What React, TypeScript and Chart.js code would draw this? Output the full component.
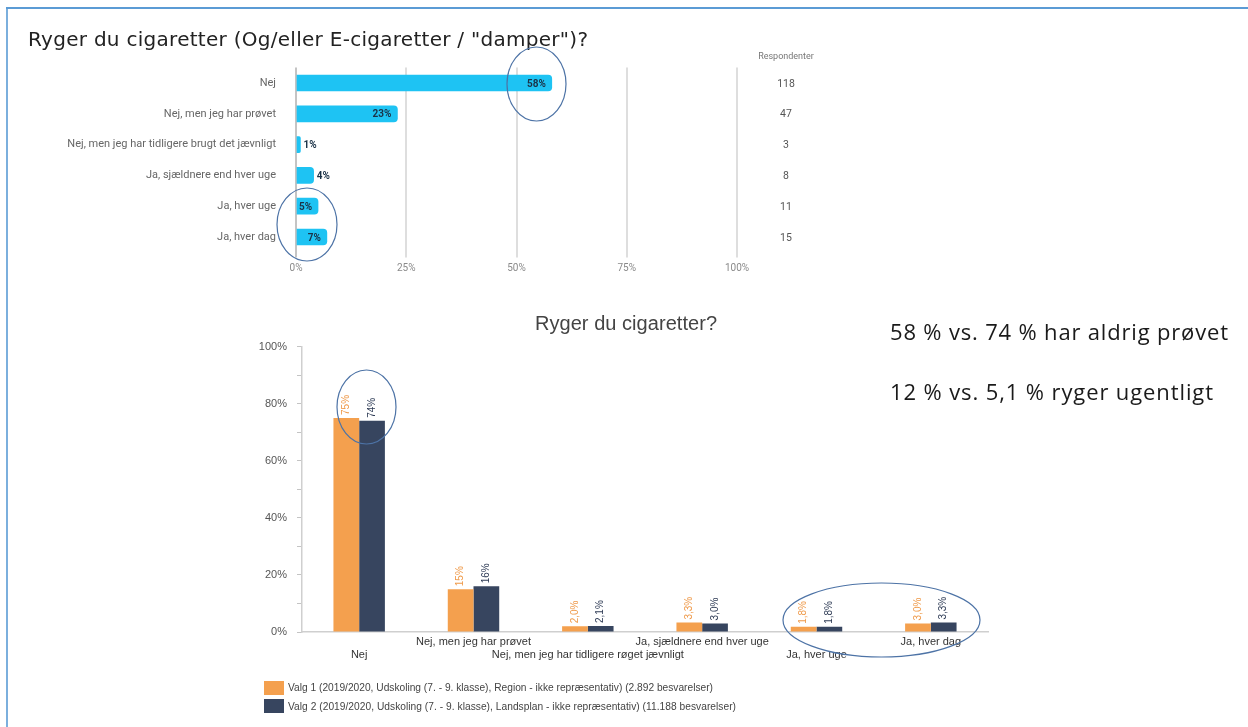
import React, { useEffect, useRef } from 'react';
import { Chart, registerables } from 'chart.js';

Chart.register(...registerables);

// ---------- Data ----------
const topTitle = 'Ryger du cigaretter (Og/eller E-cigaretter / "damper")?';
const topCategories = [
  'Nej',
  'Nej, men jeg har prøvet',
  'Nej, men jeg har tidligere brugt det jævnligt',
  'Ja, sjældnere end hver uge',
  'Ja, hver uge',
  'Ja, hver dag',
];
const topPercent = [58, 23, 1, 4, 5, 7];
const topRespondents = [118, 47, 3, 8, 11, 15];
const topRespondentsHeader = 'Respondenter';

const bottomTitle = 'Ryger du cigaretter?';
const bottomCategories = [
  'Nej',
  'Nej, men jeg har prøvet',
  'Nej, men jeg har tidligere røget jævnligt',
  'Ja, sjældnere end hver uge',
  'Ja, hver uge',
  'Ja, hver dag',
];
const regionValues = [75, 15, 2.0, 3.3, 1.8, 3.0];
const nationalValues = [74, 16, 2.1, 3.0, 1.8, 3.3];
const legendLabels = [
  'Valg 1 (2019/2020, Udskoling (7. - 9. klasse), Region - ikke repræsentativ) (2.892 besvarelser)',
  'Valg 2 (2019/2020, Udskoling (7. - 9. klasse), Landsplan - ikke repræsentativ) (11.188 besvarelser)',
];
const annotations = [
  '58 % vs. 74 % har aldrig prøvet',
  '12 % vs. 5,1 % ryger ugentligt',
];

const CYAN = '#1ec3f3';
const ORANGE = '#f4a04e';
const NAVY = '#37455f';

function fmtBottom(v: number): string {
  return v >= 10 ? `${Math.round(v)}%` : `${v.toFixed(1).replace('.', ',')}%`;
}

function TopChart() {
  const ref = useRef<HTMLCanvasElement>(null);
  useEffect(() => {
    const labelPlugin = {
      id: 'topLabels',
      afterDatasetsDraw(chart: any) {
        const ctx = chart.ctx;
        const meta = chart.getDatasetMeta(0);
        ctx.save();
        ctx.font = 'bold 10px Roboto';
        ctx.fillStyle = '#1b3247';
        ctx.textBaseline = 'middle';
        meta.data.forEach((el: any, i: number) => {
          const v = topPercent[i];
          const txt = `${v}%`;
          if (v >= 5) {
            ctx.textAlign = 'right';
            ctx.fillText(txt, el.x - 6, el.y + 1);
          } else {
            ctx.textAlign = 'left';
            ctx.fillText(txt, el.x + 3, el.y + 1);
          }
        });
        const yScale = chart.scales.y;
        ctx.textAlign = 'center';
        ctx.font = '10.5px Roboto';
        ctx.fillStyle = '#555';
        topRespondents.forEach((n, i) => {
          ctx.fillText(String(n), 786, yScale.getPixelForValue(i) + 1);
        });
        ctx.font = '9px Roboto';
        ctx.fillStyle = '#777';
        ctx.fillText(topRespondentsHeader, 786, chart.chartArea.top - 11);
        ctx.restore();
      },
    };
    const chart = new Chart(ref.current as HTMLCanvasElement, {
      type: 'bar',
      data: {
        labels: topCategories,
        datasets: [
          {
            data: topPercent,
            backgroundColor: CYAN,
            borderRadius: 4,
            barThickness: 16,
          },
        ],
      },
      options: {
        indexAxis: 'y',
        responsive: false,
        animation: false,
        events: [],
        layout: { padding: { top: 67.6, right: 123, left: 0, bottom: 0 } },
        plugins: { legend: { display: false }, tooltip: { enabled: false } },
        scales: {
          x: {
            min: 0,
            max: 100,
            ticks: {
              stepSize: 25,
              padding: 5,
              color: '#8a8a8a',
              font: { family: 'Roboto', size: 10 },
              callback: (v: any) => `${v}%`,
            },
            grid: {
              color: (c: any) => (c.tick && c.tick.value === 0 ? '#c4c4c4' : '#dedede'),
              lineWidth: 2,
              tickLength: 5,
            },
            border: { display: false },
            afterFit: (s: any) => {
              s.height = 37.6;
            },
          },
          y: {
            ticks: {
              padding: 12,
              color: '#666',
              font: { family: 'Roboto', size: 11 },
            },
            grid: { display: false },
            border: { display: false },
            afterFit: (s: any) => {
              s.width = 296;
            },
          },
        },
      },
      plugins: [labelPlugin],
    } as any);
    return () => chart.destroy();
  }, []);
  return (
    <canvas
      ref={ref}
      width={860}
      height={290}
      style={{ position: 'absolute', left: 0, top: 0, width: 860, height: 290 }}
    />
  );
}

function BottomChart() {
  const ref = useRef<HTMLCanvasElement>(null);
  useEffect(() => {
    const valuePlugin = {
      id: 'bottomLabels',
      afterDatasetsDraw(chart: any) {
        const ctx = chart.ctx;
        const colors = ['#ef9a4a', '#2f3c56'];
        const series = [regionValues, nationalValues];
        ctx.save();
        ctx.font = '10px "Liberation Sans", Arial';
        ctx.textAlign = 'left';
        ctx.textBaseline = 'middle';
        chart.data.datasets.forEach((_: any, di: number) => {
          const meta = chart.getDatasetMeta(di);
          ctx.fillStyle = colors[di];
          meta.data.forEach((el: any, i: number) => {
            ctx.save();
            ctx.translate(el.x, el.y - 3);
            ctx.rotate(-Math.PI / 2);
            ctx.fillText(fmtBottom(series[di][i]), 0, 0);
            ctx.restore();
          });
        });
        ctx.restore();
      },
    };
    const chart = new Chart(ref.current as HTMLCanvasElement, {
      type: 'bar',
      data: {
        labels: bottomCategories,
        datasets: [
          {
            label: legendLabels[0],
            data: regionValues,
            backgroundColor: ORANGE,
            borderWidth: 0,
            categoryPercentage: 0.45,
            barPercentage: 1,
          },
          {
            label: legendLabels[1],
            data: nationalValues,
            backgroundColor: NAVY,
            borderWidth: 0,
            categoryPercentage: 0.45,
            barPercentage: 1,
          },
        ],
      },
      options: {
        responsive: false,
        animation: false,
        events: [],
        layout: { padding: { top: 14, right: 22, left: 0, bottom: 0 } },
        plugins: { legend: { display: false }, tooltip: { enabled: false } },
        scales: {
          x: {
            ticks: {
              autoSkip: false,
              maxRotation: 0,
              minRotation: 0,
              padding: 3.5,
              color: '#333',
              font: { family: '"Liberation Sans", Arial', size: 11 },
              callback: function (this: any, _v: any, i: number) {
                const l = bottomCategories[i];
                return i % 2 === 0 ? ['', l] : [l, ''];
              },
            },
            grid: { display: true, drawOnChartArea: false, drawTicks: false },
            border: { display: true, color: '#cfcfcf', width: 1.5 },
            afterFit: (s: any) => {
              s.height = 38;
            },
          },
          y: {
            min: 0,
            max: 100,
            ticks: {
              stepSize: 10,
              padding: 10,
              color: '#555',
              font: { family: '"Liberation Sans", Arial', size: 11 },
              callback: (v: any) => (v % 20 === 0 ? `${v}%` : ''),
            },
            grid: { drawOnChartArea: false, drawTicks: true, tickLength: 5, color: '#c4c4c4' },
            border: { display: true, color: '#cfcfcf', width: 1.5 },
            afterFit: (s: any) => {
              s.width = 72;
            },
          },
        },
      },
      plugins: [valuePlugin],
    } as any);
    return () => chart.destroy();
  }, []);
  return (
    <canvas
      ref={ref}
      width={780}
      height={340}
      style={{ position: 'absolute', left: 230, top: 330, width: 780, height: 340 }}
    />
  );
}

export default function App() {
  useEffect(() => {
    document.body.style.margin = '0';
    document.body.style.background = '#ffffff';
  }, []);
  const ellipseStroke = '#4d73a6';
  return (
    <div style={{ position: 'relative', width: 1248, height: 727, overflow: 'hidden', background: '#fff' }}>
      <TopChart />
      <BottomChart />
      <svg
        width={1248}
        height={727}
        style={{ position: 'absolute', left: 0, top: 0, pointerEvents: 'none' }}
      >
        <line x1={6} y1={8} x2={1248} y2={8} stroke="#5b9bd5" strokeWidth={2.2} />
        <line x1={7} y1={7} x2={7} y2={727} stroke="#5b9bd5" strokeWidth={1.6} />
        <text
          x={28}
          y={46}
          fontFamily="DejaVu Sans"
          fontSize={20}
          fill="#222"
          textLength={560}
          lengthAdjust="spacing"
        >
          {topTitle}
        </text>
        <text
          x={626}
          y={330}
          textAnchor="middle"
          fontFamily="Liberation Sans, Arial"
          fontSize={20}
          fill="#444"
          textLength={182}
          lengthAdjust="spacing"
        >
          {bottomTitle}
        </text>
        <text x={890} y={340} fontFamily="Open Sans" fontSize={22} fill="#1a1a1a" textLength={338} lengthAdjust="spacing">
          {annotations[0]}
        </text>
        <text x={890} y={400} fontFamily="Open Sans" fontSize={22} fill="#1a1a1a" textLength={323} lengthAdjust="spacing">
          {annotations[1]}
        </text>
        <rect x={264} y={681} width={20} height={14} fill={ORANGE} />
        <rect x={264} y={699} width={20} height={14} fill={NAVY} />
        <text x={288} y={691} fontFamily="Liberation Sans, Arial" fontSize={10.2} fill="#444" textLength={425} lengthAdjust="spacing">
          {legendLabels[0]}
        </text>
        <text x={288} y={710} fontFamily="Liberation Sans, Arial" fontSize={10.2} fill="#444" textLength={448} lengthAdjust="spacing">
          {legendLabels[1]}
        </text>
        <ellipse cx={536.5} cy={84} rx={29.5} ry={37} fill="none" stroke={ellipseStroke} strokeWidth={1.2} />
        <ellipse cx={307} cy={224.5} rx={30} ry={36.5} fill="none" stroke={ellipseStroke} strokeWidth={1.2} />
        <ellipse cx={366.5} cy={407} rx={29.5} ry={37} fill="none" stroke={ellipseStroke} strokeWidth={1.2} />
        <ellipse cx={881.5} cy={620} rx={98.5} ry={37} fill="none" stroke={ellipseStroke} strokeWidth={1.2} />
      </svg>
    </div>
  );
}
